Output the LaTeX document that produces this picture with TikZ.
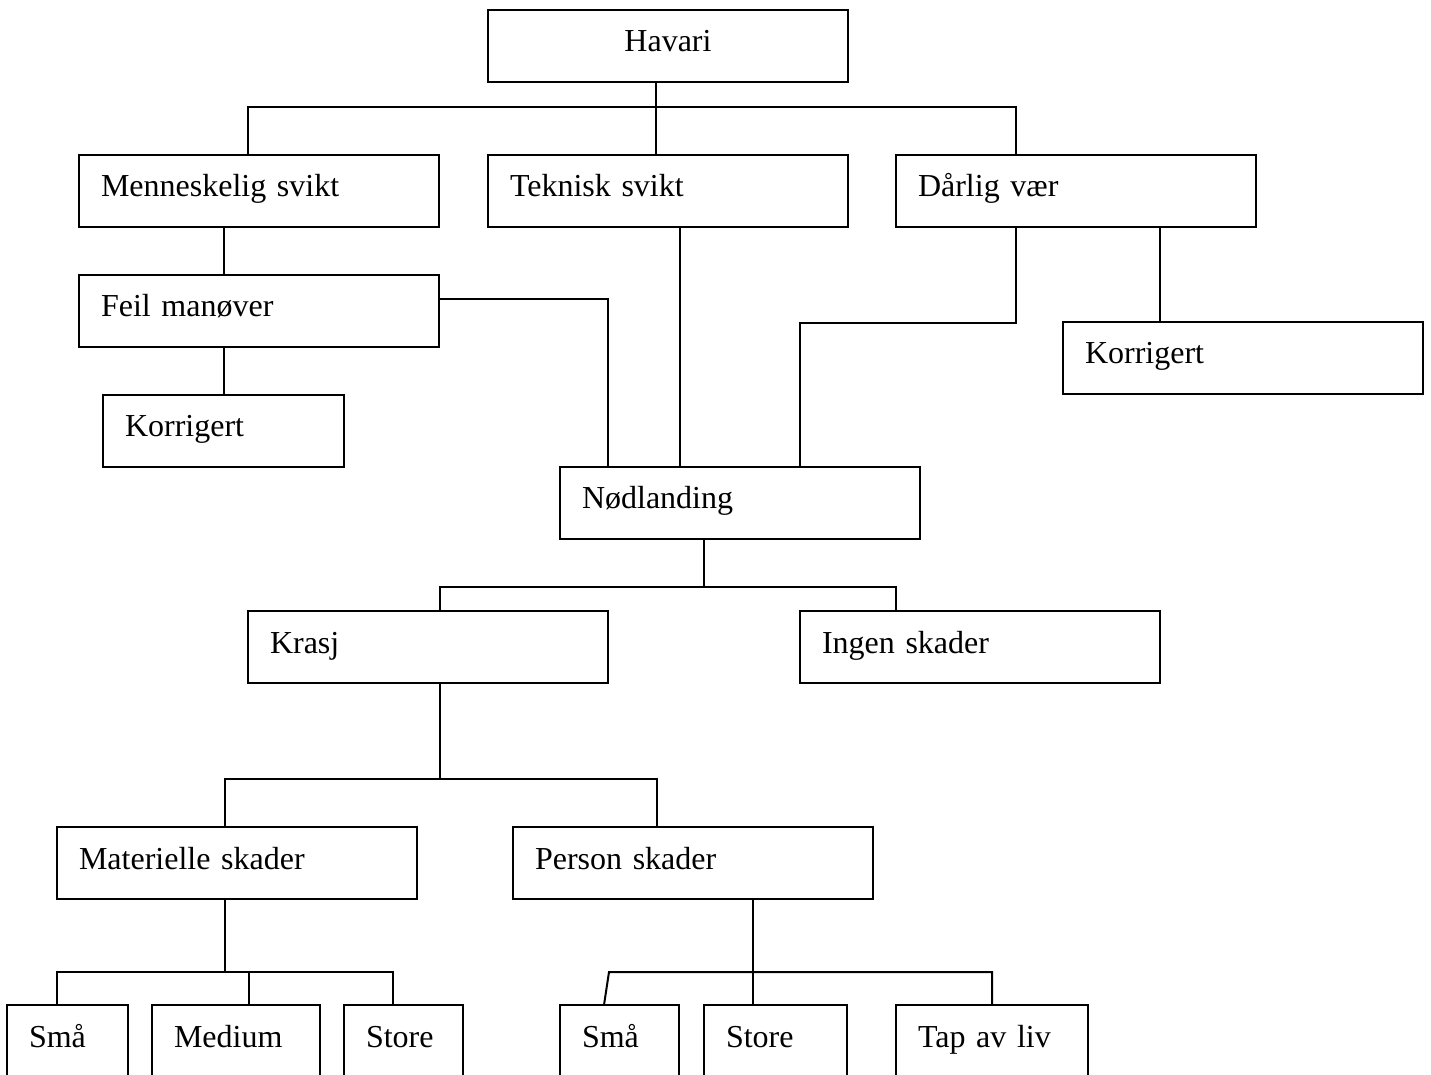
\documentclass[tikz,border=0pt]{standalone}
\usepackage{fontspec}
\setmainfont[WordSpace=0.75]{Liberation Serif}
\usepackage{tikz}

\begin{document}
\begin{tikzpicture}[x=0.5pt,y=-0.5pt,line width=1pt,
  block/.style={draw,rectangle,anchor=north west,outer sep=0pt,inner xsep=11pt,inner ysep=0pt,
    minimum height=36pt,text width=#1,align=left,text height=0.7em,text depth=0.1em,
    font=\fontsize{16}{19}\selectfont}]
\path[use as bounding box,fill=white] (0,0) rectangle (1431,1075);
\clip (0,0) rectangle (1431,1075);

\path
(488,10) node [block=158pt,align=center] (havari) {Havari}
(79,155) node [block=158pt] (menn) {Menneskelig svikt}
(488,155) node [block=158pt] (tek) {Teknisk svikt}
(896,155) node [block=158pt] (dar) {Dårlig vær}
(79,275) node [block=158pt] (feil) {Feil manøver}
(103,395) node [block=98.5pt] (korrL) {Korrigert}
(1063,322) node [block=158pt] (korrR) {Korrigert}
(560,467) node [block=158pt] (nod) {Nødlanding}
(248,611) node [block=158pt] (krasj) {Krasj}
(800,611) node [block=158pt] (ingen) {Ingen skader}
(57,827) node [block=158pt] (mat) {Materielle skader}
(513,827) node [block=158pt] (pers) {Person skader}
;
% bottom row, cut by the page edge
\path
(7,1005) node [block=38.5pt] (smaL) {Små}
(152,1005) node [block=62pt] (medium) {Medium}
(344,1005) node [block=37.5pt] (storeL) {Store}
(560,1005) node [block=37.5pt] (smaR) {Små}
(704,1005) node [block=49.5pt] (storeR) {Store}
(896,1005) node [block=74pt] (tap) {Tap av liv}
;

% top level
\draw ([xshift=-6pt]havari.south) -- ++(0,25);
\draw ([xshift=-5.75pt]menn.north) -- ++(0,-48) -| ([xshift=-30pt]dar.north);
\draw ([xshift=-6pt]tek.north) -- ++(0,-48);

\draw ([xshift=-17.75pt]menn.south) -- ([xshift=-17.75pt]feil.north);
\draw (feil.south -| korrL.north) -- (korrL.north);
\draw ([xshift=42pt]dar.south) -- ([xshift=-41.5pt]korrR.north);

% into Nødlanding
\draw ([yshift=6pt]feil.east) -| ([xshift=-66pt]nod.north);
\draw ([xshift=6pt]tek.south) -- ([xshift=-30pt]nod.north);
\draw ([xshift=-30pt]dar.south) -- ++(0,96) -| ([xshift=30pt]nod.north);

\draw ([xshift=-18pt]nod.south) -- ++(0,48);
\draw ([xshift=6pt]krasj.north) -- ++(0,-24) -| ([xshift=-42pt]ingen.north);

\draw ([xshift=6pt]krasj.south) -- ++(0,96);
\draw ([xshift=-6pt]mat.north) -- ++(0,-48) -| ([xshift=-18pt]pers.north);

% damage groups
\draw ([xshift=-6pt]mat.south) -- ++(0,73);
\draw ([xshift=-5.5pt]smaL.north) -- ++(0,-33) -| ([xshift=-5.5pt]storeL.north);
\draw ([xshift=6.25pt]medium.north) -- ++(0,-33);

\draw ([xshift=30pt]pers.south) -- ++(0,73);
\draw ([xshift=-7.75pt]smaR.north) -- ++(5,-33) -| (tap.north);
\draw ([xshift=-11.5pt]storeR.north) -- ++(0,-33);
\end{tikzpicture}
\end{document}
